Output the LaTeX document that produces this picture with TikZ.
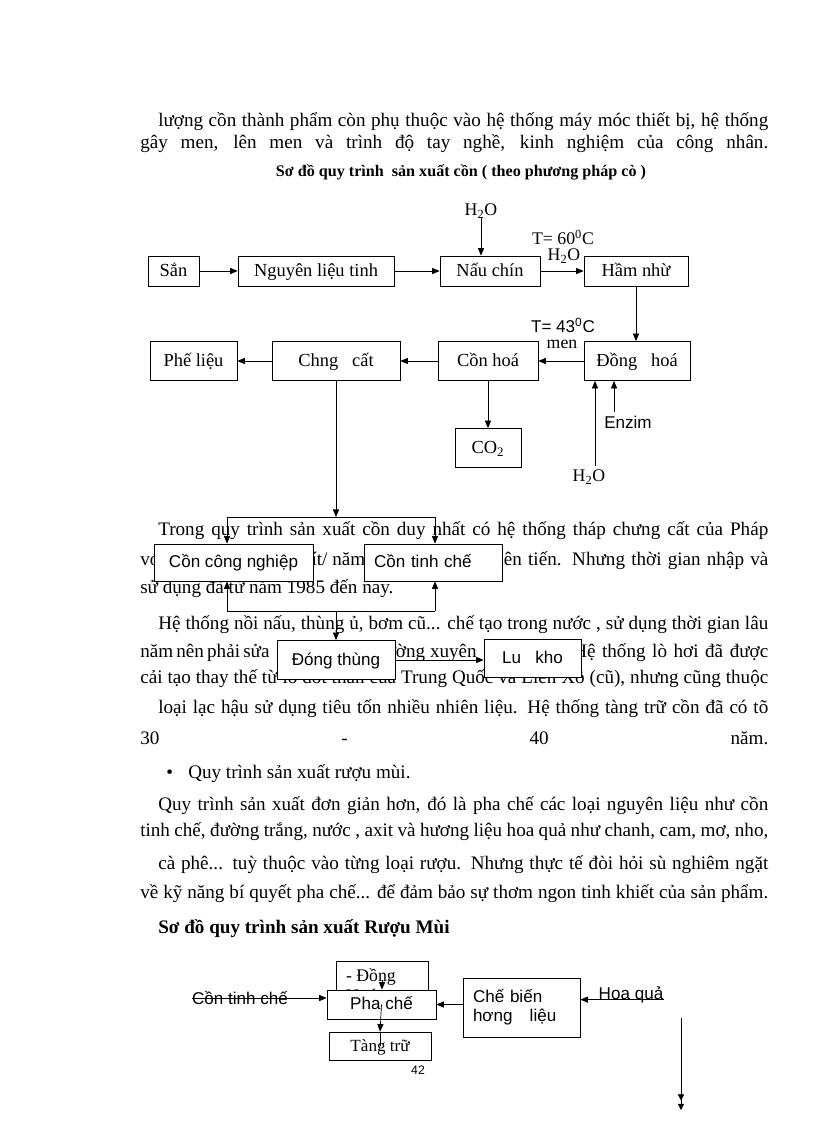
\documentclass[tikz,border=0pt]{standalone}
\usepackage{fontspec}
\setmainfont{Liberation Serif}
\newfontfamily\arialf{Liberation Sans}
\usetikzlibrary{arrows.meta,positioning}
\newlength\pxu
\setlength\pxu{0.7322pt}
\newcommand{\bodyfont}{\fontsize{14}{17}\selectfont}
\newcommand{\fulline}[1]{\makebox[628\pxu][s]{#1}}
\newcommand{\indline}[1]{\makebox[610\pxu][s]{#1}}

\begin{document}
\begin{tikzpicture}[x=0.7322pt,y=-0.7322pt,>={Triangle[length=5.5pt,width=4.5pt]},
  txt/.style={anchor=base west,inner sep=0pt,font=\bodyfont},
  txte/.style={anchor=base east,inner sep=0pt,font=\bodyfont},
  sz/.style 2 args={minimum width=#1*0.7322pt,minimum height=#2*0.7322pt},
  frame/.style={draw,fill=white,line width=0.6pt,inner sep=2pt},
  box/.style={frame,text height=10.5pt,text depth=3pt,font=\fontsize{13.5}{15}\selectfont},
  sbox/.style={box,font=\arialf\fontsize{12.5}{14}\selectfont},
  lab/.style={inner sep=0pt,font=\fontsize{13}{14}\selectfont},
  slab/.style={lab,font=\arialf\fontsize{12.5}{14}\selectfont},
  flow/.style={->,line width=0.5pt}]
  \fill[white] (0,0) rectangle (816,1123);
  \useasboundingbox (0,0) rectangle (816,1123);
  % text of the page
  \node[txt] (p1) at (158,127) {\indline{lượng cồn thành phẩm còn phụ thuộc vào hệ thống máy móc thiết bị, hệ thống}};
  \node[txt] (p2) at (140,148) {\fulline{gây men, lên men và trình độ tay nghề, kinh nghiệm của công nhân.}};
  \node[inner sep=0pt,font=\bfseries\fontsize{11.8}{13}\selectfont] (t1) at (461,172) {Sơ đồ quy trình\ \ sản xuất cồn ( theo phương pháp cò )};
  \node[txt] (p4) at (158,535) {\indline{Trong quy trình sản xuất cồn duy nhất có hệ thống tháp chưng cất của Pháp}};
  \node[txt] (p5a) at (140,565) {với};
  \node[txt] (p5b) at (306,565) {lít/ năm};
  \node[txt] (p5c) at (493,565) {\makebox[275\pxu][s]{tiên tiến. Nhưng thời gian nhập và}};
  \node[txt] (p6) at (140,593) {sử dụng đã từ năm 1985 đến nay.};
  \node[txt] (p7) at (158,629) {\indline{Hệ thống nồi nấu, thùng ủ, bơm cũ... chế tạo trong nước , sử dụng thời gian lâu}};
  \node[txt] (p8a) at (140,657) {\makebox[125\pxu][s]{năm nên phải sửa}};
  \node[txte] (p8b) at (477,657) {thường xuyên};
  \node[txt] (p8c) at (573,657) {\makebox[195\pxu][s]{Hệ thống lò hơi đã được}};
  \node[txt] (p9) at (140,683) {\fulline{cải tạo thay thế từ lò đốt than của Trung Quốc và Liên Xô (cũ), nhưng cũng thuộc}};
  \node[txt] (p10) at (158,713) {\indline{loại lạc hậu sử dụng tiêu tốn nhiều nhiên liệu. Hệ thống tàng trữ cồn đã có tõ}};
  \node[txt] (p11) at (140,744) {\fulline{30 - 40 năm.}};
  \node[txt] (dot) at (166,778) {\textbullet};
  \node[txt] (p12) at (188,778) {Quy trình sản xuất rượu mùi.};
  \node[txt] (p13) at (158,810) {\indline{Quy trình sản xuất đơn giản hơn, đó là pha chế các loại nguyên liệu như cồn}};
  \node[txt] (p14) at (140,836) {\fulline{tinh chế, đường trắng, nước , axit và hương liệu hoa quả như chanh, cam, mơ, nho,}};
  \node[txt] (p15) at (158,869) {\indline{cà phê... tuỳ thuộc vào từng loại rượu. Nhưng thực tế đòi hỏi sù nghiêm ngặt}};
  \node[txt] (p16) at (140,898) {\fulline{về kỹ năng bí quyết pha chế... để đảm bảo sự thơm ngon tinh khiết của sản phẩm.}};
  \node[txt,font=\bfseries\fontsize{14}{16}\selectfont] (t2) at (158,933) {Sơ đồ quy trình sản xuất Rượu Mùi};
  % first flow chart
  \node[box,sz={51}{30}] (san) at (173.5,271) {Sắn};
  \node[box,sz={156}{30}] (nlt) at (316,271) {Nguyên liệu tinh};
  \node[box,sz={100}{30}] (nau) at (490,271) {Nấu chín};
  \node[box,sz={104}{30}] (ham) at (636,271) {Hầm nhừ};
  \node[box,sz={87}{39}] (phe) at (193.5,361) {Phế liệu};
  \node[box,sz={128}{39}] (chung) at (336,361) {Chng\ \ \ cất};
  \node[box,sz={100}{39}] (conhoa) at (488,361) {Cồn hoá};
  \node[box,sz={106}{39}] (dong) at (637,361) {Đồng\ \ \ hoá};
  \node[box,sz={66}{39}] (co2) at (488,448) {CO\textsubscript{2}};
  \node[lab] (nuoc1) at (481,211) {H\textsubscript{2}O};
  \node[lab] (t60) at (563,237) {T= 60\textsuperscript{0}C};
  \node[lab] (nuoc2) at (564,256) {H\textsubscript{2}O};
  \node[slab] (t43) at (563,325) {T= 43\textsuperscript{0}C};
  \node[lab] (men) at (562,344) {men};
  \node[slab] (enz) at (628,422) {Enzim};
  \node[lab] (nuoc3) at (589,477) {H\textsubscript{2}O};
  \coordinate (enzA) at (614,412);
  \coordinate (nuocA) at (595,466);
  \draw[flow] (san) -- (nlt);
  \draw[flow] (nlt) -- (nau);
  \draw[flow] (nau) -- (ham);
  \draw[flow] (nuoc1) -- (nuoc1 |- nau.north);
  \draw[flow] (ham.south) -- (ham.south |- dong.north);
  \draw[flow] (dong) -- (conhoa);
  \draw[flow] (conhoa) -- (chung);
  \draw[flow] (chung) -- (phe);
  \draw[flow] (conhoa) -- (co2);
  \draw[flow] (enzA) -- (enzA |- dong.south);
  \draw[flow] (nuocA) -- (nuocA |- dong.south);
  \coordinate (splitL) at (227,517);
  \coordinate (splitR) at (435,517);
  \coordinate (joinL) at (227,611);
  \coordinate (joinR) at (435,611);
  \node[sbox,sz={159}{37}] (cn) at (233.5,562.5) {Cồn công nghiệp};
  \node[sbox,sz={138}{37},inner xsep=10*0.7322pt,text width=118*0.7322pt,align=left] (tc) at (433,562.5) {Cồn tinh chế};
  \node[sbox,sz={118}{39}] (dt) at (336,660) {Đóng thùng};
  \node[sbox,sz={97}{38}] (lk) at (532.5,658) {Lu\ \ \ kho};
  \draw[flow] (chung.south) -- (chung.south |- splitL);
  \draw (splitL) -- (splitR);
  \draw[flow] (splitL) -- (splitL |- cn.north);
  \draw[flow] (splitR) -- (splitR |- tc.north);
  \draw (joinL) -- (joinR);
  \draw[flow] (joinL) -- (joinL |- cn.south);
  \draw[flow] (joinR) -- (joinR |- tc.south);
  \draw[flow] (chung.south |- joinL) -- (dt);
  \draw[flow] (dt.east) -- (dt.east -| lk.west);
  % second flow chart
  \node[box,sz={92}{37},font=\fontsize{13}{14}\selectfont,text height=8pt,text depth=4.4pt] (duong) at (382,979.5) {\begin{tabular}[t]{@{}l@{}}\makebox[72\pxu][l]{- Đồng}\\Nước\end{tabular}};
  \node[sbox,sz={109}{29}] (pha) at (381.5,1004.5) {Pha chế};
  \node[box,sz={102}{28},font=\fontsize{12.5}{14}\selectfont] (tang) at (380,1046) {Tàng trữ};
  \node[frame,sz={117}{59},font=\arialf\fontsize{12.5}{14}\selectfont,inner xsep=10*0.7322pt,text width=97*0.7322pt,align=left] (cb) at (521.5,1007.5) {Chế biến\\hơng\ \ \ liệu\\[6pt]};
  \node[slab] (ctc) at (240,998) {Cồn tinh chế};
  \node[slab] (hq) at (631,995) {Hoa quả};
  \node[inner sep=0pt,font=\arialf\fontsize{9}{10}\selectfont] (trang) at (418,1070) {42};
  \coordinate (dropA) at (681,1018);
  \coordinate (dropB) at (681,1110);
  \draw[flow] (duong.center) -- (duong.center |- pha.north);
  \draw[flow] (pha.center) -- (tang.north);
  \draw (tang.north) -- (tang.center);
  \draw[flow] (ctc.west) -- (ctc.west -| pha.west);
  \draw[flow] (cb.west |- pha) -- (pha.east);
  \draw[flow] (hq.base east) -- (hq.base east -| cb.east);
  \draw[-{Triangle[length=4.5pt,width=4.5pt,sep=2.5pt]Triangle[length=4.5pt,width=4.5pt]},line width=0.5pt] (dropA) -- (dropB);
\end{tikzpicture}
\end{document}
